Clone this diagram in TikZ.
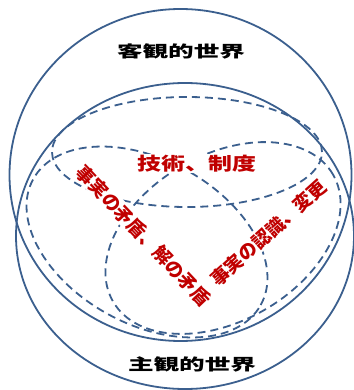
\documentclass[tikz,border=0pt]{standalone}
\usepackage{fontspec}
\newfontfamily\jpfont{Noto Sans CJK JP}
\definecolor{lineblue}{HTML}{3B5F8E}
\definecolor{txtred}{HTML}{C00000}
\begin{document}
\begin{tikzpicture}[x=1pt,y=-1pt,
  world/.style={draw=lineblue, line width=1.8pt},
  setline/.style={draw=lineblue, line width=1.8pt, dash pattern=on 8pt off 5pt},
  title/.style={font=\jpfont\bfseries\fontsize{16}{16}\selectfont, text=black, xscale=1.6, inner sep=0pt},
  redlabel/.style={font=\jpfont\bfseries\fontsize{18.5}{18.5}\selectfont, text=txtred, fill=white, inner sep=1pt},
]
\useasboundingbox (0,0) rectangle (353,390);
% worlds
\draw[world] (180.5,175) ellipse [x radius=171pt, y radius=166pt];
\draw[world] (185,236) ellipse [x radius=169pt, y radius=153pt];
% three dashed sets
\draw[setline] (187,152) ellipse [x radius=135pt, y radius=55pt];
\draw[setline, rotate around={-29:(147,242)}] (147,242) ellipse [x radius=130pt, y radius=82pt];
\draw[setline, rotate around={30:(223,238)}] (223,238) ellipse [x radius=127pt, y radius=83pt];
% labels
\node[title] (obj) at (181,51) {客観的世界};
\node[title] (subj) at (192,364) {主観的世界};
\node[redlabel, xscale=1.33, font=\jpfont\bfseries\fontsize{18}{18}\selectfont] (tech) at (197,163.5) {技術、制度};
\node[redlabel, rotate=-46.5] (contra) at (143.5,235.5) {事実の矛盾、解の矛盾};
\node[redlabel, rotate=42] (recog) at (268.5,233) {事実の認識、変更};
\end{tikzpicture}
\end{document}
